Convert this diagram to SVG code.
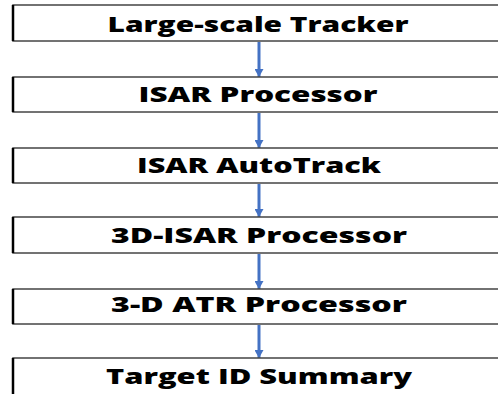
<svg xmlns="http://www.w3.org/2000/svg" width="498" height="394" viewBox="0 0 498 394">
  <style>
    .box { fill: #ffffff; stroke: #444444; stroke-width: 1.5; }
    .edge { stroke: #000000; stroke-width: 2.5; }
    .lbl { font-family: "Open Sans", "Liberation Sans", sans-serif; font-weight: 800; font-size: 21px; fill: #000000; text-anchor: middle; }
    .conn { stroke: #4472C4; stroke-width: 3; fill: none; }
  </style>
  <defs>
    <marker id="ah" markerUnits="userSpaceOnUse" markerWidth="11" markerHeight="9" refX="8" refY="4.5" orient="auto">
      <path d="M0,0 L8,4.5 L0,9 Z" fill="#4472C4"/>
    </marker>
  </defs>
  <rect width="498" height="394" fill="#ffffff"/>
  <g id="connectors">
    <line class="conn" x1="259" y1="42" x2="259" y2="77" marker-end="url(#ah)"/>
    <line class="conn" x1="259" y1="113" x2="259" y2="148" marker-end="url(#ah)"/>
    <line class="conn" x1="259" y1="184" x2="259" y2="217" marker-end="url(#ah)"/>
    <line class="conn" x1="259" y1="254" x2="259" y2="289" marker-end="url(#ah)"/>
    <line class="conn" x1="259" y1="325" x2="259" y2="358" marker-end="url(#ah)"/>
  </g>
  <g id="node1">
    <rect class="box" x="13" y="5" width="510" height="36"/>
    <line class="edge" x1="13" y1="5" x2="13" y2="41"/>
    <text class="lbl" x="258" y="32" textLength="301" lengthAdjust="spacingAndGlyphs">Large-scale Tracker</text>
  </g>
  <g id="node2">
    <rect class="box" x="13" y="77" width="510" height="35"/>
    <line class="edge" x1="13" y1="77" x2="13" y2="112"/>
    <text class="lbl" x="258" y="102" textLength="239" lengthAdjust="spacingAndGlyphs">ISAR Processor</text>
  </g>
  <g id="node3">
    <rect class="box" x="13" y="148" width="510" height="35"/>
    <line class="edge" x1="13" y1="148" x2="13" y2="183"/>
    <text class="lbl" x="259" y="173" textLength="244" lengthAdjust="spacingAndGlyphs">ISAR AutoTrack</text>
  </g>
  <g id="node4">
    <rect class="box" x="13" y="217" width="510" height="36"/>
    <line class="edge" x1="13" y1="217" x2="13" y2="253"/>
    <text class="lbl" x="259" y="243" textLength="296" lengthAdjust="spacingAndGlyphs">3D-ISAR Processor</text>
  </g>
  <g id="node5">
    <rect class="box" x="13" y="289" width="510" height="35"/>
    <line class="edge" x1="13" y1="289" x2="13" y2="324"/>
    <text class="lbl" x="259" y="312" textLength="296" lengthAdjust="spacingAndGlyphs">3-D ATR Processor</text>
  </g>
  <g id="node6">
    <rect class="box" x="13" y="358" width="510" height="60"/>
    <line class="edge" x1="13" y1="358" x2="13" y2="394"/>
    <text class="lbl" x="259" y="384" textLength="306" lengthAdjust="spacingAndGlyphs">Target ID Summary</text>
  </g>
</svg>
